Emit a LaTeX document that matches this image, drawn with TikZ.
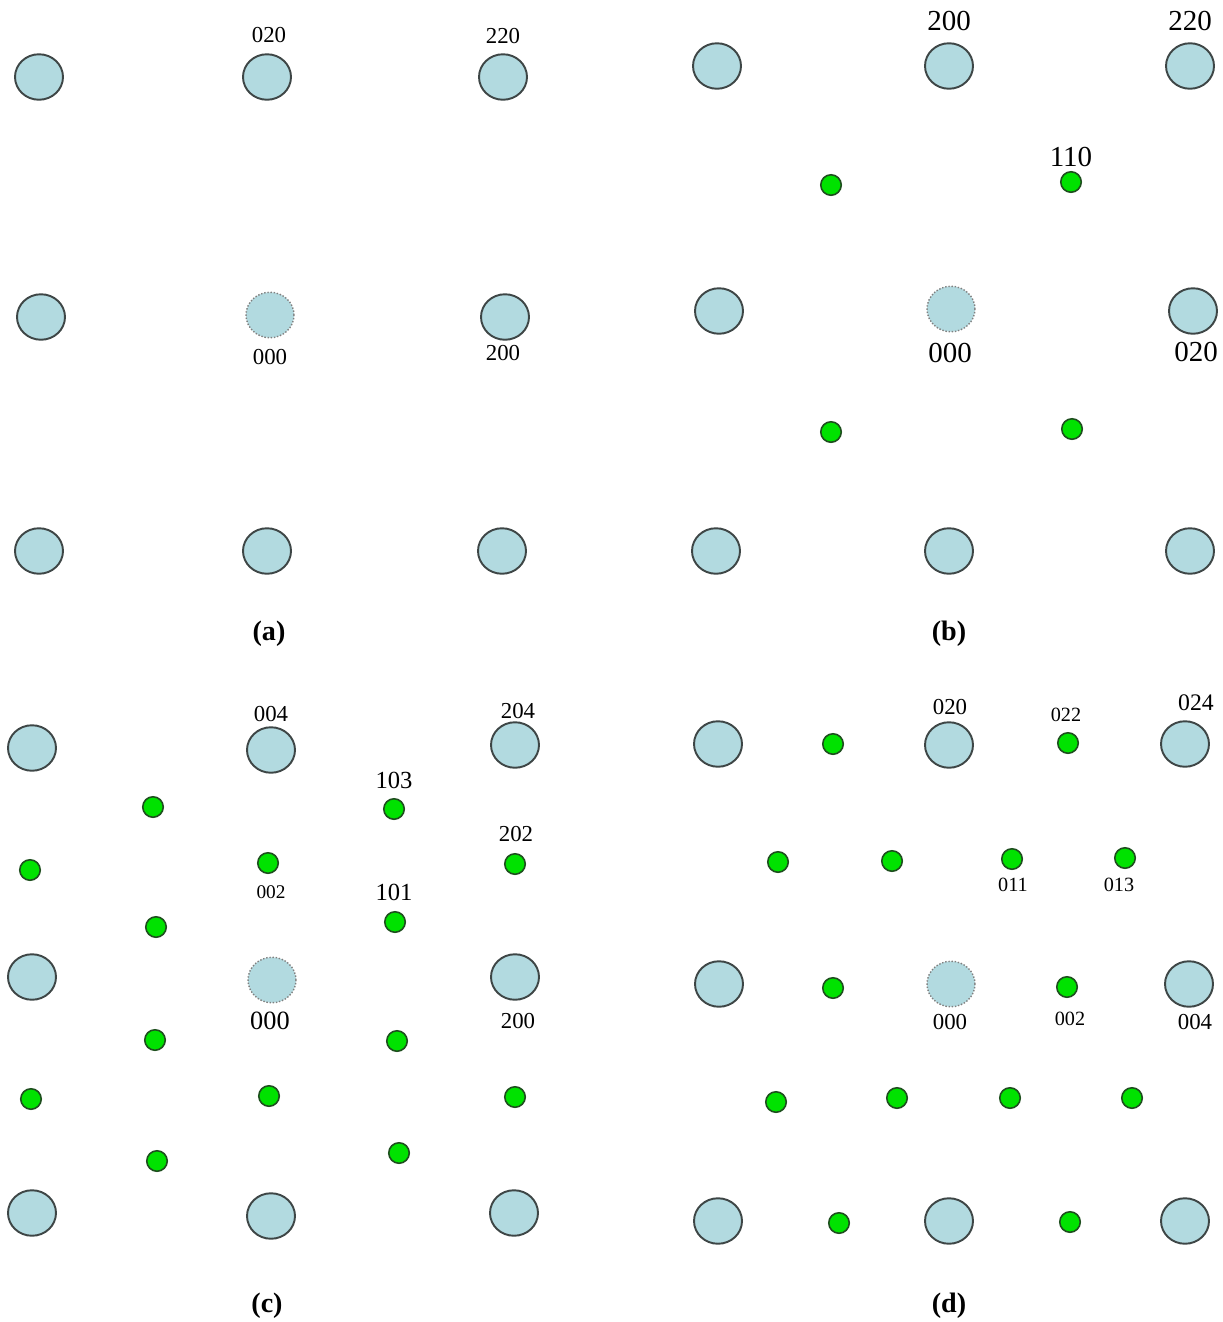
\documentclass[tikz,border=0pt]{standalone}
\usepackage{fontspec}
\setmainfont{Liberation Serif}
\usetikzlibrary{shapes.geometric, positioning}

\definecolor{spotblue}{RGB}{178,218,224}
\definecolor{spotedge}{RGB}{62,70,70}
\definecolor{satgreen}{RGB}{0,226,0}
\definecolor{satedge}{RGB}{30,78,30}

\begin{document}
\begin{tikzpicture}[
    x=0.02cm, y=-0.02cm,
    spot/.style={ellipse, minimum width=0.96cm, minimum height=0.91cm, inner sep=0pt, draw=spotedge, fill=spotblue, line width=1.1pt},
    origin/.style={spot, draw=gray, line width=0.8pt, densely dotted},
    sat/.style={circle, minimum size=0.41cm, inner sep=0pt, draw=satedge, fill=satgreen, line width=0.9pt},
    idx/.style={inner sep=0pt, font=\fontsize{#1}{#1}\selectfont},
    idx/.default=13,
    caplbl/.style={inner sep=0pt, font=\fontsize{16}{16}\selectfont\bfseries}
]
    \useasboundingbox (0,0) rectangle (1223,1322);

    % (a) fundamental spots only
    \foreach \nm/\x/\y in {a11/39/77, a12/267/77, a13/503/77,
                           a21/41/317, a23/505/317,
                           a31/39/551, a32/267/551, a33/502/551}
        \node[spot] (\nm) at (\x,\y) {};
    \node[origin] (a22) at (270,315) {};
    \node[idx] (la020) at (269,35) {020};
    \node[idx] (la220) at (503,36) {220};
    \node[idx] (la000) at (270,357) {000};
    \node[idx] (la200) at (503,353) {200};
    \node[caplbl] (capa) at (269,634) {(a)};

    % (b) with superlattice spots
    \foreach \nm/\x/\y in {b11/717/66, b12/949/66, b13/1190/66,
                           b21/719/311, b23/1193/311,
                           b31/716/551, b32/949/551, b33/1190/551}
        \node[spot] (\nm) at (\x,\y) {};
    \node[origin] (b22) at (951,309) {};
    \foreach \nm/\x/\y in {bs1/831/185, bs2/1071/182, bs3/831/432, bs4/1072/429}
        \node[sat] (\nm) at (\x,\y) {};
    \node[idx=16.5] (lb200) at (949,21) {200};
    \node[idx=16.5] (lb220) at (1190,21) {220};
    \node[idx=16.5] (lb110) at (1071,157) {110};
    \node[idx=16.5] (lb000) at (950,353) {000};
    \node[idx=16.5] (lb020) at (1196,352) {020};
    \node[caplbl] (capb) at (949,634) {(b)};

    % (c)
    \foreach \nm/\x/\y in {c11/32/748, c12/271/750, c13/515/745,
                           c21/32/977, c23/515/977,
                           c31/32/1213, c32/271/1216, c33/514/1213}
        \node[spot] (\nm) at (\x,\y) {};
    \node[origin] (c22) at (272,980) {};
    \foreach \nm/\x/\y in {cs1/153/807, cs2/394/809, cs3/30/870, cs4/268/863,
                           cs5/515/864, cs6/156/927, cs7/395/922, cs8/155/1040,
                           cs9/397/1041, cs10/31/1099, cs11/269/1096, cs12/515/1097,
                           cs13/157/1161, cs14/399/1153}
        \node[sat] (\nm) at (\x,\y) {};
    \node[idx=13] (lc004) at (271,714) {004};
    \node[idx=13] (lc204) at (518,711) {204};
    \node[idx=14] (lc103) at (394,780) {103};
    \node[idx=13] (lc202) at (516,834) {202};
    \node[idx=11] (lc002) at (271,892) {002};
    \node[idx=14] (lc101) at (394,892) {101};
    \node[idx=15] (lc000) at (270,1021) {000};
    \node[idx=13] (lc200) at (518,1021) {200};
    \node[caplbl] (capc) at (267,1306) {(c)};

    % (d)
    \foreach \nm/\x/\y in {d11/718/744, d12/949/745, d13/1185/744,
                           d21/719/984, d23/1189/984,
                           d31/718/1221, d32/949/1221, d33/1185/1221}
        \node[spot] (\nm) at (\x,\y) {};
    \node[origin] (d22) at (951,984) {};
    \foreach \nm/\x/\y in {ds1/833/744, ds2/1068/743, ds3/778/862, ds4/892/861,
                           ds5/1012/859, ds6/1125/858, ds7/833/988, ds8/1067/987,
                           ds9/776/1102, ds10/897/1098, ds11/1010/1098, ds12/1132/1098,
                           ds13/839/1223, ds14/1070/1222}
        \node[sat] (\nm) at (\x,\y) {};
    \node[idx=13] (ld020) at (950,707) {020};
    \node[idx=11.5] (ld022) at (1066,715) {022};
    \node[idx=13.5] (ld024) at (1196,703) {024};
    \node[idx=11.5] (ld011) at (1013,885) {011};
    \node[idx=11.5] (ld013) at (1119,885) {013};
    \node[idx=13] (ld000) at (950,1022) {000};
    \node[idx=11.5] (ld002) at (1070,1019) {002};
    \node[idx=13] (ld004) at (1195,1022) {004};
    \node[caplbl] (capd) at (949,1306) {(d)};
\end{tikzpicture}
\end{document}
